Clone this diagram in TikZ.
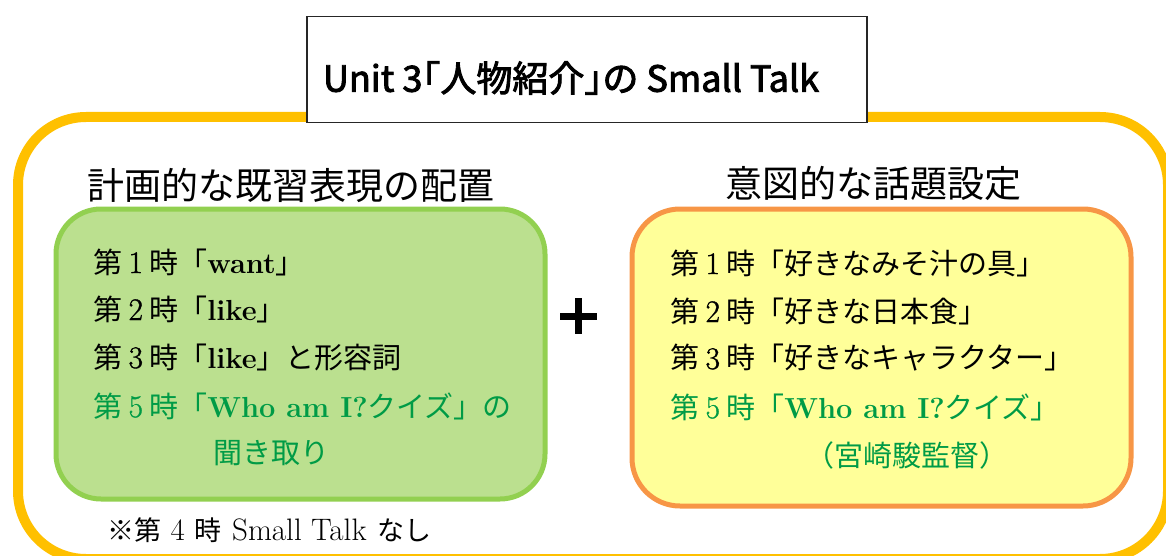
\documentclass[tikz,border=0pt]{standalone}
\usepackage{fontspec}
\setmainfont{Noto Sans CJK JP}
\newfontfamily\titlefont{Noto Sans CJK JP}[AutoFakeBold=2.5]
\newfontfamily\lmr{Latin Modern Roman}
\newfontfamily\lmdig{Latin Modern Roman}[Scale=1.08, AutoFakeBold=1.2]
\newfontfamily\lmnote{Latin Modern Roman}[Scale=1.15]
\definecolor{frameyellow}{HTML}{FFC000}
\definecolor{greenfill}{HTML}{BBE08F}
\definecolor{greenline}{HTML}{92D050}
\definecolor{orangefill}{HTML}{FFFF99}
\definecolor{orangeline}{HTML}{F79646}
\definecolor{textgreen}{RGB}{0,155,70}
\tikzset{
  outerframe/.style={draw=frameyellow, line width=10pt, rounded corners=68pt},
  titlebox/.style={draw=black!85, line width=1.6pt, fill=white, minimum width=560pt, minimum height=106pt, inner sep=0pt},
  greenbox/.style={draw=greenline, fill=greenfill, line width=5pt, rounded corners=45pt},
  orangebox/.style={draw=orangeline, fill=orangefill, line width=5pt, rounded corners=48pt},
  heading/.style={inner sep=0pt, font=\fontsize{37}{44}\selectfont},
  body/.style={inner sep=0pt, anchor=west, font=\fontsize{29}{35}\selectfont},
  note/.style={inner sep=0pt, anchor=west, font=\fontsize{27}{32}\selectfont},
  plusbar/.style={line width=7pt}
}
\newcommand{\dg}[1]{\hspace{0.22em}{\lmdig\bfseries #1}\hspace{0.22em}}
\newcommand{\lb}[1]{{\lmr\bfseries #1}}
\begin{document}
\begin{tikzpicture}[x=1pt,y=-1pt]
\useasboundingbox (0,0) rectangle (1166,556);
% outer frame
\draw[outerframe] (18,117) rectangle (1168,559);
% title box
\node[titlebox] (title) at (587,69.5) {};
\node[inner sep=0pt, font=\fontsize{36}{42}\titlefont\bfseries] (titletext) at (571,78) {Unit 3\hspace{-0.5em}「人物紹介」\hspace{-0.5em}の Small Talk};
% headings
\node[heading] (hleft) at (291,185) {計画的な既習表現の配置};
\node[heading] (hright) at (873,183) {意図的な話題設定};
% boxes
\draw[greenbox] (56,209) rectangle (545,499);
\draw[orangebox] (632,209) rectangle (1131,506);
% plus
\coordinate (pl) at (560,316);
\coordinate (pr) at (597,316);
\coordinate (pt) at (578.5,298);
\coordinate (pb) at (578.5,334);
\draw[plusbar] (pl) -- (pr);
\draw[plusbar] (pt) -- (pb);
% left lines
\node[body] (l1) at (93,262) {第\dg{1}時「\lb{want}」};
\node[body] (l2) at (93,309) {第\dg{2}時「\lb{like}」};
\node[body] (l3) at (93,357) {第\dg{3}時「\lb{like}」と形容詞};
\node[body, text=textgreen] (l4) at (93,406) {第\dg{5}時「\lb{Who am I?}クイズ」の};
\node[body, text=textgreen] (l5) at (213,453) {聞き取り};
% right lines
\node[body] (r1) at (670,263) {第\dg{1}時「好きなみそ汁の具」};
\node[body] (r2) at (670,311) {第\dg{2}時「好きな日本食」};
\node[body] (r3) at (670,358) {第\dg{3}時「好きなキャラクター」};
\node[body, text=textgreen] (r4) at (670,407) {第\dg{5}時「\lb{Who am I?}クイズ」};
\node[body, text=textgreen] (r5) at (805,455) {（宮崎駿監督）};
% note
\node[note] (note) at (107,530) {※第\hspace{0.35em}{\lmnote 4}\hspace{0.35em}時\hspace{0.4em}{\lmnote Small Talk}\hspace{0.4em}なし};
\end{tikzpicture}
\end{document}
